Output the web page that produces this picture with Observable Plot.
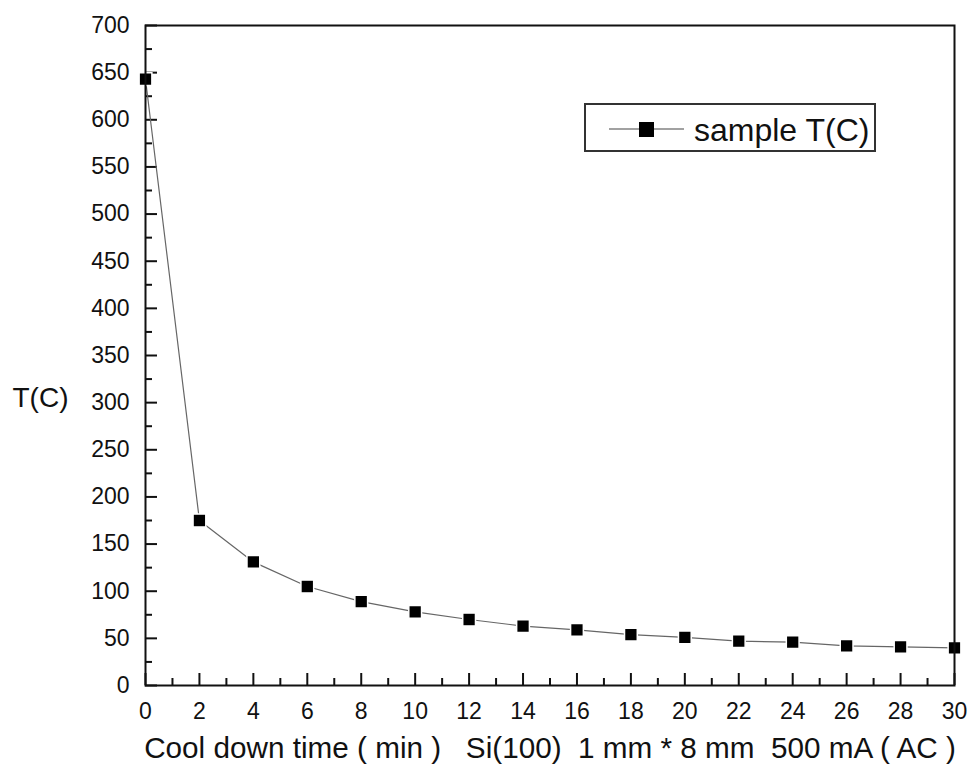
<!DOCTYPE html>
<html><head><meta charset="utf-8">
<script src="https://cdn.jsdelivr.net/npm/d3@7"></script>
<script src="https://cdn.jsdelivr.net/npm/@observablehq/plot@0.6"></script>
<style>
body{margin:0;background:#fff;font-family:"Liberation Sans",Arial,sans-serif;}
#wrap{position:relative;width:970px;height:780px;}
#legend{position:absolute;left:584px;top:103px;width:292px;height:49px;border:2px solid #333;box-sizing:border-box;background:#fff;}
#legend svg{position:absolute;left:0;top:0;}
</style></head><body><div id="wrap"></div>
<script>
const times = [0, 2, 4, 6, 8, 10, 12, 14, 16, 18, 20, 22, 24, 26, 28, 30];
const temps = [643, 175, 131, 105, 89, 78, 70, 63, 59, 54, 51, 47, 46, 42, 41, 40];
const seriesName = "sample T(C)";
const xMajor = d3.range(0, 31, 2);
const xMinor = d3.range(1, 30, 2);
const yMajor = d3.range(0, 701, 50);
const yMinor = d3.range(25, 700, 50);
const xLabel = "Cool down time ( min )   Si(100)  1 mm * 8 mm  500 mA ( AC )";
const yLabel = "T(C)";

const data = times.map((t, i) => ({t, v: temps[i]}));

const chart = Plot.plot({
  width: 970, height: 780,
  marginLeft: 145, marginRight: 16, marginTop: 25, marginBottom: 95,
  style: "font-family: 'Liberation Sans', Arial, sans-serif; font-size: 23px; color: #111; background: #fff; white-space: pre; overflow: visible;",
  x: {domain: [0, 30]},
  y: {domain: [0, 700]},
  marks: [
    Plot.axisX({ticks: xMinor, tickSize: -7, tickFormat: () => "", label: null, strokeWidth: 2}),
    Plot.axisX({ticks: xMajor, tickSize: -12, tickPadding: 29, label: null, strokeWidth: 2, fill: "#111"}),
    Plot.axisY({ticks: yMinor, tickSize: -7, tickFormat: () => "", label: null, strokeWidth: 2}),
    Plot.axisY({ticks: yMajor, tickSize: -12, tickPadding: 28, label: null, strokeWidth: 2, fill: "#111"}),
    Plot.line(data, {x: "t", y: "v", stroke: "#666", strokeWidth: 1.2}),
    Plot.dot(data, {x: "t", y: "v", symbol: "square", r: 7.2, fill: "#000", stroke: "#fff", strokeWidth: 1.5}),
    Plot.frame({stroke: "#111", strokeWidth: 2}),
    Plot.text([xLabel], {text: d => d, frameAnchor: "bottom", dy: 72, fontSize: 29.7, fill: "#111"}),
    Plot.text([yLabel], {text: d => d, frameAnchor: "left", textAnchor: "middle", dx: -105, dy: 43, fontSize: 28, fill: "#111"})
  ]
});
const wrap = document.getElementById("wrap");
wrap.appendChild(chart);

// enlarge axis tick labels
d3.select(chart).selectAll('g[aria-label*="tick label"]').attr("font-size", 23).style("font-size", "23px")
  .selectAll("text").attr("font-size", 23).style("font-size", "23px");

const legend = document.createElement("div");
legend.id = "legend";
legend.innerHTML = `<svg width="292" height="49">
  <line x1="23" x2="98" y1="24" y2="24" stroke="#444" stroke-width="1.2"/>
  <rect x="53" y="17" width="15" height="15" fill="#000"/>
  <text x="108" y="36" font-size="32" fill="#111" font-family="'Liberation Sans', Arial, sans-serif">${seriesName}</text>
</svg>`;
wrap.appendChild(legend);
</script>
</body></html>
